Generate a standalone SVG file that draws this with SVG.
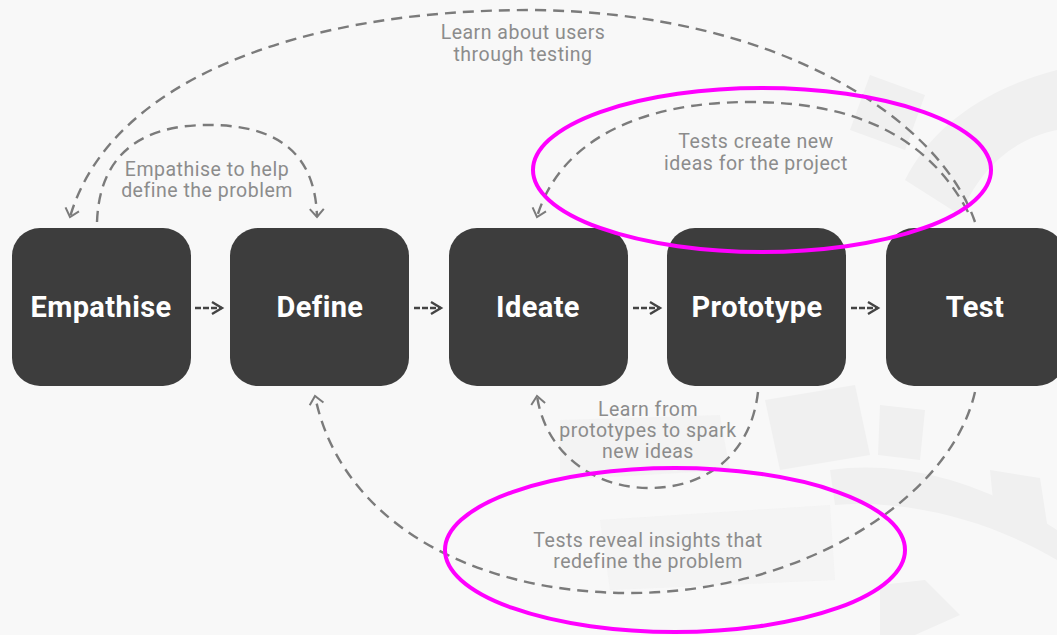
<svg xmlns="http://www.w3.org/2000/svg" width="1057" height="635" viewBox="0 0 1057 635">
  <style>
    .node rect { fill: #3d3d3d; }
    .node text { font-family: Roboto, "Liberation Sans", sans-serif; font-weight: 700; font-size: 29px; letter-spacing: 0.4px; fill: #ffffff; text-anchor: middle; }
    .lbl { font-family: Roboto, "Liberation Sans", sans-serif; font-size: 19.5px; letter-spacing: 0.5px; fill: #8c8c8c; text-anchor: middle; }
    .arc { fill: none; stroke: #7b7b7b; stroke-width: 2.4; stroke-dasharray: 11 7; }
    .step { fill: none; stroke: #444444; stroke-width: 2.4; stroke-dasharray: 6 2; }
    .ring { fill: none; stroke: #ff00ff; stroke-width: 4; }
    .wm { fill: #f0f0f0; }
  </style>
  <defs>
    <marker id="openArc" markerUnits="userSpaceOnUse" markerWidth="20" markerHeight="20" refX="10" refY="10" orient="auto">
      <path d="M2 3 L10 10 L2 17" fill="none" stroke="#7b7b7b" stroke-width="2"/>
    </marker>
    <marker id="openStep" markerUnits="userSpaceOnUse" markerWidth="20" markerHeight="20" refX="12" refY="10" orient="auto">
      <path d="M2 4 L12 10 L2 16" fill="none" stroke="#444444" stroke-width="2.4"/>
    </marker>
  </defs>
  <rect width="1057" height="635" fill="#f8f8f8"/>

  <g id="watermark">
    <path class="wm" d="M1057 70 C980 90 930 130 905 180 L960 215 C980 170 1010 140 1057 130 Z"/>
    <path class="wm" d="M870 75 L925 95 L905 150 L850 130 Z"/>
    <path class="wm" d="M765 400 L855 385 L870 455 L780 470 Z"/>
    <path class="wm" d="M880 405 L925 410 L920 460 L878 455 Z"/>
    <path class="wm" d="M990 470 L1040 478 L1048 530 L995 520 Z"/>
    <path class="wm" d="M880 585 L925 580 L960 615 L915 635 L880 635 Z"/>
    <path class="wm" d="M830 470 C900 460 980 480 1057 530 L1057 560 C980 515 900 500 835 505 Z"/>
    <path class="wm" d="M560 420 L720 415 L730 470 L560 480 Z" opacity="0.6"/>
    <path class="wm" d="M600 520 L830 505 L835 580 L610 590 Z" opacity="0.5"/>
  </g>

  <g id="connectors">
    <path class="arc" d="M975 222 C940 120 780 12 530 10 C300 10 110 80 70 217" marker-end="url(#openArc)"/>
    <path class="arc" d="M97 222 C100 140 160 125 208 125 C260 125 315 140 317 217" marker-end="url(#openArc)"/>
    <path class="arc" d="M968 212 C930 140 860 102 750 102 C640 102 560 140 537 217" marker-end="url(#openArc)"/>
    <path class="arc" d="M758 392 C750 460 700 488 650 488 C590 488 545 450 537 396" marker-end="url(#openArc)"/>
    <path class="arc" d="M975 392 C950 500 800 593 630 593 C470 593 340 520 315 396" marker-end="url(#openArc)"/>
    <path class="step" d="M195 308 L222 308" marker-end="url(#openStep)"/>
    <path class="step" d="M414 308 L441 308" marker-end="url(#openStep)"/>
    <path class="step" d="M633 308 L660 308" marker-end="url(#openStep)"/>
    <path class="step" d="M851 308 L878 308" marker-end="url(#openStep)"/>
  </g>

  <g id="labels">
    <text class="lbl" x="523" y="39">Learn about users</text>
    <text class="lbl" x="523" y="61">through testing</text>
    <text class="lbl" x="207" y="176">Empathise to help</text>
    <text class="lbl" x="207" y="197">define the problem</text>
    <text class="lbl" x="756" y="148">Tests create new</text>
    <text class="lbl" x="756" y="170">ideas for the project</text>
    <text class="lbl" x="648" y="416">Learn from</text>
    <text class="lbl" x="648" y="437">prototypes to spark</text>
    <text class="lbl" x="648" y="458">new ideas</text>
    <text class="lbl" x="648" y="547">Tests reveal insights that</text>
    <text class="lbl" x="648" y="568">redefine the problem</text>
  </g>

  <g id="node-empathise" class="node"><rect x="12" y="228" width="179" height="158" rx="28"/><text x="101" y="317">Empathise</text></g>
  <g id="node-define" class="node"><rect x="230" y="228" width="179" height="158" rx="28"/><text x="320" y="317">Define</text></g>
  <g id="node-ideate" class="node"><rect x="449" y="228" width="179" height="158" rx="28"/><text x="538" y="317">Ideate</text></g>
  <g id="node-prototype" class="node"><rect x="667" y="228" width="179" height="158" rx="28"/><text x="757" y="317">Prototype</text></g>
  <g id="node-test" class="node"><rect x="886" y="228" width="179" height="158" rx="28"/><text x="975" y="317">Test</text></g>

  <g id="highlights">
    <ellipse class="ring" cx="762" cy="170" rx="229" ry="82"/>
    <ellipse class="ring" cx="675" cy="550" rx="230" ry="82"/>
  </g>
</svg>
